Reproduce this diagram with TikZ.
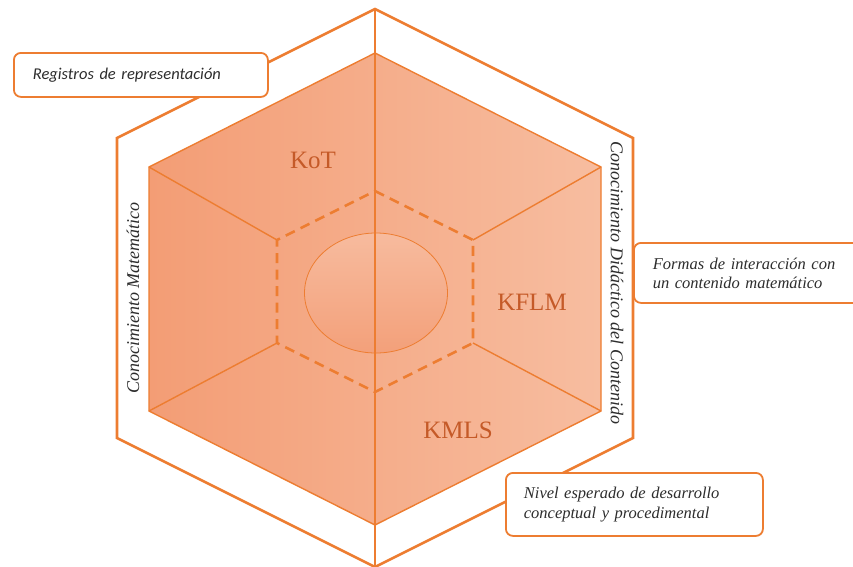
\documentclass[tikz,border=0pt]{standalone}
\usepackage{fontspec}
\setmainfont{Liberation Serif}
\newfontfamily\calib{Carlito}
\definecolor{orn}{RGB}{237,125,49}
\definecolor{ktext}{RGB}{197,90,40}
\definecolor{fillL}{RGB}{243,157,117}
\definecolor{fillR}{RGB}{247,189,160}
\definecolor{ellT}{RGB}{247,187,158}
\definecolor{ellB}{RGB}{243,160,122}
\definecolor{txt}{RGB}{45,45,45}
\begin{document}
\begin{tikzpicture}[x=1pt,y=-1pt,
  outer/.style={draw=orn,line width=2.6pt,line join=miter},
  edge/.style={draw=orn,line width=1.4pt},
  dash hex/.style={draw=orn,line width=2.6pt,dash pattern=on 10pt off 6.5pt},
  ktag/.style={text=ktext,font=\fontsize{25}{28}\selectfont,inner sep=0pt},
  vlabel/.style={text=txt,font=\fontsize{18}{20}\selectfont\itshape,inner sep=0pt},
  box/.style={draw=orn,line width=1.8pt,fill=white,rounded corners=7pt,anchor=north west,
    align=left,text=txt,inner ysep=0pt},
]
\useasboundingbox (0,0) rectangle (853,566);
% outer hexagon
\coordinate (O1) at (375,9);
\coordinate (O2) at (633,138);
\coordinate (O3) at (633,438);
\coordinate (O4) at (375,567);
\coordinate (O5) at (117,438);
\coordinate (O6) at (117,138);
% inner hexagon
\coordinate (I1) at (375,53);
\coordinate (I2) at (601,167);
\coordinate (I3) at (601,411);
\coordinate (I4) at (375,525);
\coordinate (I5) at (149,411);
\coordinate (I6) at (149,167);
% dashed hexagon
\coordinate (D1) at (375,191);
\coordinate (D2) at (473,240);
\coordinate (D3) at (473,343);
\coordinate (D4) at (375,392);
\coordinate (D5) at (277,343);
\coordinate (D6) at (277,240);

\draw[outer] (O1) -- (O2) -- (O3) -- (O4) -- (O5) -- (O6) -- cycle;
\shade[left color=fillL,right color=fillR] (I1) -- (I2) -- (I3) -- (I4) -- (I5) -- (I6) -- cycle;
\draw[edge] (I1) -- (I2) -- (I3) -- (I4) -- (I5) -- (I6) -- cycle;
\draw[edge] (I6) -- (D6);
\draw[edge] (I5) -- (D5);
\draw[edge] (I2) -- (D2);
\draw[edge] (I3) -- (D3);
\draw[dash hex] (D1) -- (D2) -- (D3) -- (D4) -- (D5) -- (D6) -- cycle;
\shade[top color=ellT,bottom color=ellB,draw=orn,line width=0.8pt] (376,293) ellipse [x radius=71.5, y radius=60];
\node[circle,minimum size=0pt,inner sep=0pt] (E) at (376,293) {};
\draw[draw=orn,line width=2pt] (O1) -- (O4);

\node[ktag] (kot) at (313,160) {KoT};
\node[ktag] (kflm) at (532,302) {KFLM};
\node[ktag] (kmls) at (458,430) {KMLS};

\node[vlabel,rotate=90] (cm) at (133,298) {Conocimiento Matemático};
\node[vlabel,rotate=-90] (cdc) at (617,283) {Conocimiento Didáctico del Contenido};

\node[box,minimum width=254pt,minimum height=44pt,inner xsep=19pt,text width=216pt,
  font=\calib\itshape\fontsize{16.5}{19}\selectfont] (b1) at (13,52) {Registros de representación};
\node[box,minimum width=240pt,minimum height=60pt,inner xsep=19pt,text width=202pt,
  font=\itshape\fontsize{16.5}{19}\selectfont] (b2) at (633,242) {Formas de interacción con\\un contenido matemático};
\node[box,minimum width=257pt,minimum height=63pt,inner xsep=18pt,text width=221pt,
  font=\itshape\fontsize{16.5}{20}\selectfont] (b3) at (505,472) {Nivel esperado de desarrollo\\conceptual y procedimental};
\end{tikzpicture}
\end{document}
